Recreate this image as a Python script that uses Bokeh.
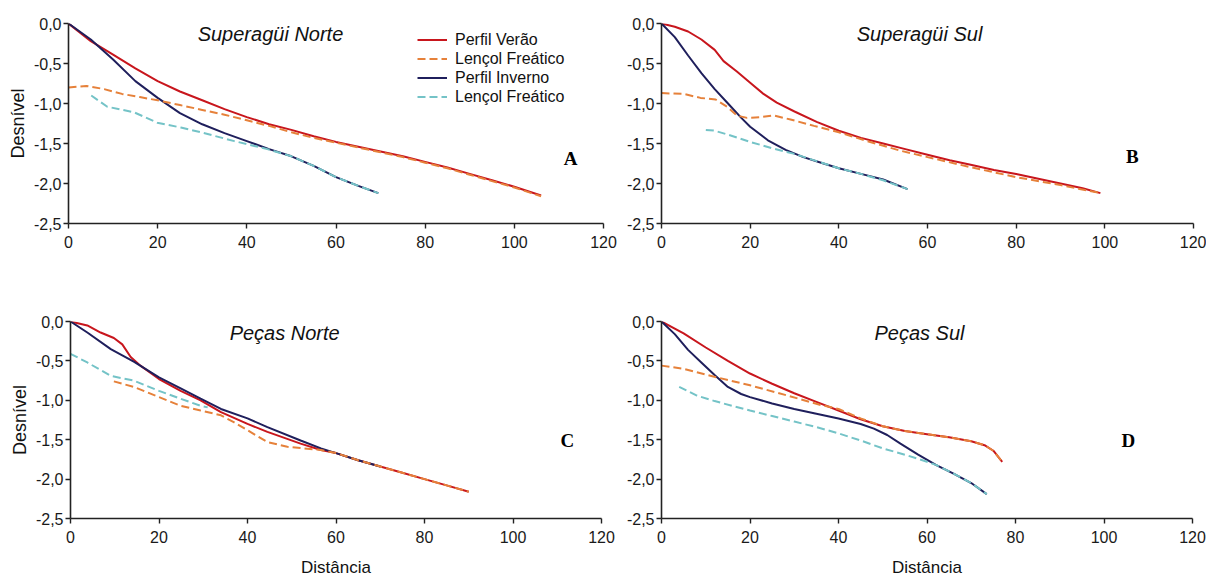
from bokeh.plotting import figure
from bokeh.layouts import column, row
from bokeh.models import Range1d, FixedTicker, Label, Legend, LegendItem
from bokeh.embed import file_html
from bokeh.resources import INLINE

# ---------------- data ----------------
panel_titles = ["Superagüi Norte", "Superagüi Sul", "Peças Norte", "Peças Sul"]
panel_letters = ["A", "B", "C", "D"]
series_names = ["Perfil Verão", "Lençol Freático", "Perfil Inverno", "Lençol Freático"]
x_ticks = [0, 20, 40, 60, 80, 100, 120]
y_ticks = [0.0, -0.5, -1.0, -1.5, -2.0, -2.5]
y_tick_labels = ["0,0", "-0,5", "-1,0", "-1,5", "-2,0", "-2,5"]
x_label = "Distância"
y_label = "Desnível"

# Panel A - Superagüi Norte
a_verao_x = [0, 5, 10, 15, 20, 25, 30, 35, 40, 45, 50, 55, 60, 65, 70, 75, 80, 85, 90, 95, 100, 106]
a_verao_y = [0, -0.22, -0.39, -0.56, -0.72, -0.85, -0.96, -1.07, -1.17, -1.26, -1.33, -1.41, -1.48, -1.54, -1.60, -1.66, -1.73, -1.80, -1.88, -1.96, -2.04, -2.15]
a_lv_x = [0, 4, 8, 12, 16, 20, 25, 30, 35, 40, 45, 50, 55, 60, 65, 70, 75, 80, 85, 90, 95, 100, 106]
a_lv_y = [-0.80, -0.78, -0.82, -0.88, -0.92, -0.96, -1.02, -1.08, -1.14, -1.21, -1.28, -1.36, -1.43, -1.49, -1.55, -1.61, -1.67, -1.74, -1.81, -1.89, -1.97, -2.05, -2.16]
a_inv_x = [0, 5, 10, 15, 20, 25, 30, 35, 40, 45, 50, 55, 60, 65, 69.5]
a_inv_y = [0, -0.20, -0.45, -0.72, -0.93, -1.12, -1.26, -1.37, -1.47, -1.57, -1.66, -1.78, -1.92, -2.03, -2.12]
a_li_x = [5.1, 8.7, 14.7, 19.9, 25.2, 29.7, 37.2, 44.6, 50, 55, 60, 65, 69.5]
a_li_y = [-0.90, -1.04, -1.11, -1.24, -1.30, -1.36, -1.47, -1.57, -1.66, -1.78, -1.92, -2.03, -2.12]

# Panel B - Superagüi Sul
b_verao_x = [0, 3, 6, 9, 12, 14, 17, 20, 23, 26, 30, 35, 40, 45, 50, 55, 60, 65, 70, 75, 80, 85, 90, 95, 99]
b_verao_y = [0, -0.04, -0.10, -0.20, -0.33, -0.47, -0.60, -0.74, -0.88, -0.99, -1.10, -1.23, -1.34, -1.43, -1.50, -1.57, -1.64, -1.71, -1.77, -1.83, -1.88, -1.94, -2.00, -2.06, -2.12]
b_lv_x = [0, 5, 8.8, 12.2, 14.8, 17, 19.3, 22.3, 25.3, 29.1, 34.4, 40, 46.4, 53.9, 60, 70, 80, 90, 99]
b_lv_y = [-0.87, -0.88, -0.93, -0.95, -1.04, -1.15, -1.18, -1.17, -1.15, -1.20, -1.28, -1.36, -1.47, -1.59, -1.67, -1.80, -1.92, -2.02, -2.12]
b_inv_x = [0, 3, 6, 9, 12, 15, 18, 20, 24, 28, 32, 36, 40, 45, 50, 55.5]
b_inv_y = [0, -0.17, -0.40, -0.62, -0.82, -1.00, -1.18, -1.29, -1.46, -1.58, -1.67, -1.74, -1.81, -1.88, -1.95, -2.07]
b_li_x = [10, 12, 15, 20, 25, 30, 35, 40, 45, 50, 55.5]
b_li_y = [-1.33, -1.34, -1.39, -1.48, -1.56, -1.63, -1.72, -1.81, -1.88, -1.96, -2.07]

# Panel C - Peças Norte
c_verao_x = [0, 3.8, 6.8, 9.8, 11.7, 13.6, 15.8, 20, 24.9, 29.4, 34, 40, 44.5, 52, 56.6, 60, 65, 70, 75, 80, 85, 90]
c_verao_y = [0, -0.05, -0.14, -0.21, -0.29, -0.45, -0.56, -0.73, -0.88, -1.00, -1.15, -1.30, -1.40, -1.55, -1.63, -1.67, -1.76, -1.84, -1.92, -2.00, -2.08, -2.16]
c_lv_x = [9.8, 14.3, 20, 24.9, 29.4, 34, 37, 40, 44.5, 49, 56.6, 60, 65, 70, 75, 80, 85, 90]
c_lv_y = [-0.76, -0.83, -0.96, -1.07, -1.13, -1.19, -1.28, -1.38, -1.53, -1.59, -1.63, -1.67, -1.76, -1.84, -1.92, -2.00, -2.08, -2.16]
c_inv_x = [0, 3.8, 9.1, 14.3, 20, 24.9, 29.4, 34, 40, 44.5, 52, 56.6, 60, 65, 70]
c_inv_y = [0, -0.14, -0.35, -0.51, -0.71, -0.85, -0.98, -1.11, -1.23, -1.34, -1.51, -1.61, -1.67, -1.76, -1.84]
c_li_x = [0, 3.8, 9.1, 14.3, 20, 24.9, 29.4, 31]
c_li_y = [-0.41, -0.52, -0.69, -0.75, -0.88, -0.98, -1.07, -1.09]

# Panel D - Peças Sul
d_verao_x = [0, 5, 10, 15, 20, 25, 30, 35, 40, 45, 50, 55, 60, 65, 70, 73, 75, 77]
d_verao_y = [0, -0.15, -0.33, -0.50, -0.66, -0.79, -0.91, -1.02, -1.13, -1.24, -1.33, -1.39, -1.43, -1.47, -1.52, -1.57, -1.64, -1.78]
d_lv_x = [0, 5, 12.6, 20, 28.5, 36, 40, 45, 50, 55, 60, 65, 70, 73, 75, 77]
d_lv_y = [-0.56, -0.60, -0.71, -0.81, -0.94, -1.06, -1.11, -1.23, -1.33, -1.39, -1.43, -1.47, -1.52, -1.57, -1.64, -1.78]
d_inv_x = [0, 3, 6, 9, 12, 15, 18, 20, 25, 30, 35, 40, 45, 48, 51, 54, 58, 62, 66, 70, 73.5]
d_inv_y = [0, -0.16, -0.36, -0.52, -0.68, -0.83, -0.92, -0.96, -1.04, -1.11, -1.17, -1.23, -1.30, -1.36, -1.44, -1.55, -1.69, -1.82, -1.93, -2.05, -2.19]
d_li_x = [4, 8, 12, 16, 20, 25, 30, 35, 40, 45, 50, 55, 60, 62, 66, 70, 73.5]
d_li_y = [-0.83, -0.94, -1.01, -1.07, -1.13, -1.20, -1.27, -1.34, -1.42, -1.51, -1.61, -1.69, -1.78, -1.82, -1.93, -2.05, -2.19]

panels_data = [
    (a_verao_x, a_verao_y, a_lv_x, a_lv_y, a_inv_x, a_inv_y, a_li_x, a_li_y),
    (b_verao_x, b_verao_y, b_lv_x, b_lv_y, b_inv_x, b_inv_y, b_li_x, b_li_y),
    (c_verao_x, c_verao_y, c_lv_x, c_lv_y, c_inv_x, c_inv_y, c_li_x, c_li_y),
    (d_verao_x, d_verao_y, d_lv_x, d_lv_y, d_inv_x, d_inv_y, d_li_x, d_li_y),
]

# positions of in-plot texts (data units)
title_pos = [(45.3, -0.125), (58.2, -0.125), (48.4, -0.14), (58.3, -0.14)]
letter_pos = [(112.6, -1.69), (106.2, -1.66), (112.3, -1.51), (105.5, -1.51)]

# ---------------- style ----------------
C_RED = "#c8161d"
C_ORANGE = "#e6813a"
C_NAVY = "#1f1f5c"
C_CYAN = "#74c3c7"
SANS = "Liberation Sans"
SERIF = "Liberation Serif"

geom = [
    # width, height, left, right, top, bottom
    (620, 290, 68, 17, 23, 67),
    (586, 290, 41, 13, 23, 67),
    (620, 291, 70, 19, 31, 63),
    (586, 291, 41, 14, 31, 63),
]


def make_panel(i):
    w, h, l, r, t, b = geom[i]
    p = figure(width=w, height=h, output_backend="svg", toolbar_location=None,
               x_range=Range1d(0, 120), y_range=Range1d(-2.5, 0),
               min_border_left=l, min_border_right=r, min_border_top=t, min_border_bottom=b)
    p.outline_line_color = None
    p.xgrid.visible = False
    p.ygrid.visible = False
    p.background_fill_color = "white"
    p.border_fill_color = "white"

    for ax in (p.xaxis[0], p.yaxis[0]):
        ax.axis_line_color = "#222222"
        ax.axis_line_width = 1.6
        ax.major_tick_line_color = "#222222"
        ax.major_tick_line_width = 1.4
        ax.major_tick_out = 5
        ax.major_tick_in = 0
        ax.minor_tick_line_color = None
        ax.major_label_text_font = SANS
        ax.major_label_text_font_size = "16px"
        ax.major_label_text_color = "#1a1a1a"
    p.xaxis.ticker = FixedTicker(ticks=x_ticks)
    p.yaxis.ticker = FixedTicker(ticks=y_ticks)
    p.yaxis.major_label_overrides = {tv: tl for tv, tl in zip(y_ticks, y_tick_labels)}
    p.xaxis.major_label_standoff = 7
    p.yaxis.major_label_standoff = 2

    if i >= 2:
        p.xaxis.axis_label = x_label
        p.xaxis.axis_label_text_font = SANS
        p.xaxis.axis_label_text_font_style = "normal"
        p.xaxis.axis_label_text_font_size = "17px"
        p.xaxis.axis_label_text_color = "#111111"
        p.xaxis.axis_label_standoff = 12
    if i in (0, 2):
        p.yaxis.axis_label = y_label
        p.yaxis.axis_label_text_font = SANS
        p.yaxis.axis_label_text_font_style = "normal"
        p.yaxis.axis_label_text_font_size = "18px"
        p.yaxis.axis_label_text_color = "#111111"
        p.yaxis.axis_label_standoff = 3

    vx, vy, lvx, lvy, ix, iy, lix, liy = panels_data[i]
    r1 = p.line(vx, vy, line_color=C_RED, line_width=2)
    r3 = p.line(ix, iy, line_color=C_NAVY, line_width=2)
    r2 = p.line(lvx, lvy, line_color=C_ORANGE, line_width=2, line_dash="8 4")
    r4 = p.line(lix, liy, line_color=C_CYAN, line_width=2, line_dash="8 4")

    tx, ty = title_pos[i]
    p.add_layout(Label(x=tx, y=ty, text=panel_titles[i], text_font=SANS, text_font_style="italic",
                       text_font_size="20px", text_align="center", text_baseline="middle",
                       text_color="#111111"))
    lx, ly = letter_pos[i]
    p.add_layout(Label(x=lx, y=ly, text=panel_letters[i], text_font=SERIF, text_font_style="bold",
                       text_font_size="19px", text_align="center", text_baseline="middle",
                       text_color="#000000"))

    if i == 0:
        items = [LegendItem(label=series_names[0], renderers=[r1]),
                 LegendItem(label=series_names[1], renderers=[r2]),
                 LegendItem(label=series_names[2], renderers=[r3]),
                 LegendItem(label=series_names[3], renderers=[r4])]
        leg = Legend(items=items, location=(349, 117), padding=0, margin=0, spacing=0,
                     label_height=19, glyph_height=19, glyph_width=30, label_standoff=8,
                     label_text_font=SANS, label_text_font_size="16px", label_text_color="#111111",
                     border_line_color=None, background_fill_alpha=0)
        p.add_layout(leg)
    return p


figs = [make_panel(i) for i in range(4)]
layout = column(row(figs[0], figs[1], spacing=0), row(figs[2], figs[3], spacing=0), spacing=0)

open("out.html", "w").write(file_html(layout, INLINE))
